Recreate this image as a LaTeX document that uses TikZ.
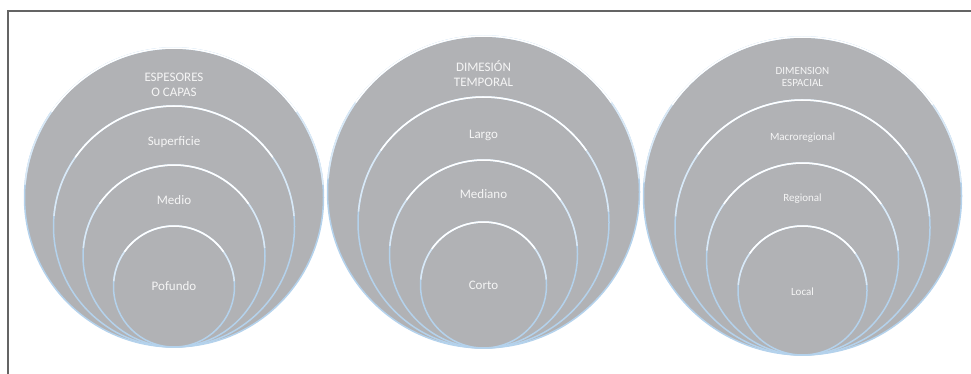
\documentclass[tikz,border=0pt]{standalone}
\usepackage{fontspec}
\setmainfont{Carlito}
\definecolor{discgray}{RGB}{177,178,181}
\definecolor{edgeblue}{RGB}{180,210,236}
\definecolor{edgemid}{RGB}{218,233,246}
\definecolor{txtwhite}{RGB}{245,245,245}
\definecolor{framegray}{RGB}{100,100,100}
\tikzset{
  ringst/.style={circle, fill=discgray, draw=edgeblue, line width=1.5pt, inner sep=0pt, outer sep=0pt},
  midline/.style={draw=edgemid, line width=1.5pt},
  topline/.style={draw=white, line width=1.5pt},
  bigtxt/.style={text=txtwhite, font=\fontsize{13}{15}\selectfont, align=center, inner sep=0pt},
  smalltxt/.style={text=txtwhite, font=\fontsize{11}{12}\selectfont, align=center, inner sep=0pt},
  framest/.style={draw=framegray, line width=1.8pt}
}
\newcommand\ringc[4]{%
  \node[ringst, minimum size={2*#4 pt}] (#1) at (#2,#3) {};
  \draw[midline] (#1.5) arc[start angle=5, end angle=175, radius=#4pt];
  \draw[topline] (#1.35) arc[start angle=35, end angle=145, radius=#4pt];
}
\begin{document}
\begin{tikzpicture}[x=1pt,y=1pt]
\useasboundingbox (0,0) rectangle (971,374);
\coordinate (fbl) at (8,0);
\coordinate (ftl) at (8,363);
\coordinate (ftr) at (971,363);
\draw[framest] (fbl) -- (ftl) -- (ftr);
% circle set 1
\ringc{a1}{174}{176.5}{149.5}
\ringc{a2}{174}{147.5}{120.5}
\ringc{a3}{174}{118}{91}
\ringc{a4}{174}{87.5}{60.5}
\node[bigtxt] (ta1) at (174,289.5) {ESPESORES\\O CAPAS};
\node[bigtxt] (ta2) at (174,232) {Superficie};
\node[bigtxt] (ta3) at (174,174) {Medio};
\node[bigtxt] (ta4) at (174,88) {Pofundo};
% circle set 2
\ringc{b1}{483.5}{182}{156}
\ringc{b2}{483.5}{151.5}{125.5}
\ringc{b3}{483.5}{120}{94}
\ringc{b4}{483.5}{89}{63}
\node[bigtxt] (tb1) at (483.5,300) {DIMESIÓN\\TEMPORAL};
\node[bigtxt] (tb2) at (483.5,239) {Largo};
\node[bigtxt] (tb3) at (483.5,180) {Mediano};
\node[bigtxt] (tb4) at (483.5,89) {Corto};
% circle set 3
\ringc{c1}{802.5}{178}{159}
\ringc{c2}{802.5}{146.5}{127.5}
\ringc{c3}{802.5}{115}{96}
\ringc{c4}{802.5}{83.5}{64.5}
\node[smalltxt] (tc1) at (802.5,297.5) {DIMENSION\\ESPACIAL};
\node[smalltxt] (tc2) at (802.5,236) {Macroregional};
\node[smalltxt] (tc3) at (802.5,175) {Regional};
\node[smalltxt] (tc4) at (802.5,82) {Local};
\end{tikzpicture}
\end{document}
